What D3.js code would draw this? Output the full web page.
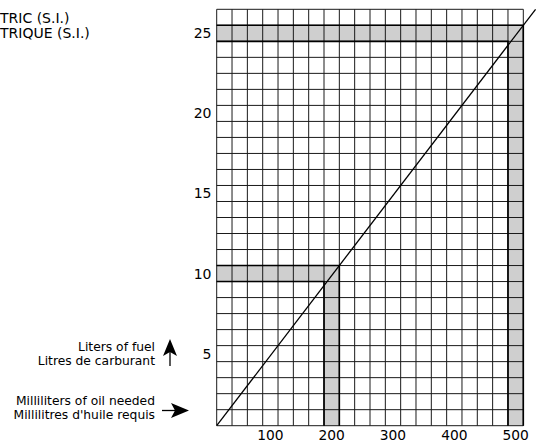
<!DOCTYPE html>
<html><head><meta charset="utf-8">
<script src="https://cdn.jsdelivr.net/npm/d3@7"></script>
<style>
body{margin:0;background:#fff;}
text{font-family:"DejaVu Sans", sans-serif;fill:#000;}
</style></head>
<body><svg id="c" width="537" height="443"></svg>
<script>
// ---- data ----
const xTicks = [100, 200, 300, 400, 500];          // mL of oil
const yTicks = [5, 10, 15, 20, 25];                // L of fuel
const ratioLine = [[0, 0], [520, 26]];              // mL oil vs L fuel (1:50 ratio)
const examples = [{oil: 200, fuel: 10}, {oil: 500, fuel: 25}];
const titleLines = ["TRIC (S.I.)", "TRIQUE (S.I.)"];
const fuelLabel = ["Liters of fuel", "Litres de carburant"];
const oilLabel = ["Milliliters of oil needed", "Millilitres d'huile requis"];
const xStep = 25, yStep = 1, xMax = 500, yMax = 26;

const svg = d3.select("#c");
const x = d3.scaleLinear().domain([0, xMax]).range([216.7, 523.3]);
const y = d3.scaleLinear().domain([0, yMax]).range([425.7, 9.3]);

// shaded bands
const bands = svg.append("g");
examples.forEach(e => {
  bands.append("rect").attr("x", x(0)).attr("y", y(e.fuel)).attr("width", x(e.oil) - x(0))
    .attr("height", y(e.fuel - yStep) - y(e.fuel)).attr("fill", "#cfcfcf");
  bands.append("rect").attr("x", x(e.oil - xStep)).attr("y", y(e.fuel)).attr("width", x(e.oil) - x(e.oil - xStep))
    .attr("height", y(0) - y(e.fuel)).attr("fill", "#cfcfcf");
});

// grid
const grid = svg.append("g").attr("stroke", "#1a1a1a").attr("stroke-width", 1);
d3.range(0, xMax + 1, xStep).forEach(v => {
  grid.append("line").attr("x1", x(v)).attr("x2", x(v)).attr("y1", y(0)).attr("y2", y(yMax));
});
d3.range(0, yMax + 1, yStep).forEach(v => {
  grid.append("line").attr("x1", x(0)).attr("x2", x(xMax)).attr("y1", y(v)).attr("y2", y(v));
});

// band outlines
examples.forEach(e => {
  const p = d3.path();
  p.moveTo(x(0), y(e.fuel)); p.lineTo(x(e.oil), y(e.fuel)); p.lineTo(x(e.oil), y(0));
  p.moveTo(x(0), y(e.fuel - yStep)); p.lineTo(x(e.oil - xStep), y(e.fuel - yStep)); p.lineTo(x(e.oil - xStep), y(0));
  svg.append("path").attr("d", p.toString()).attr("fill", "none").attr("stroke", "#000").attr("stroke-width", 1.6);
});

// ratio line
svg.append("path").datum(ratioLine)
  .attr("d", d3.line().x(d => x(d[0])).y(d => y(d[1])))
  .attr("fill", "none").attr("stroke", "#000").attr("stroke-width", 1.3);

// tick labels
svg.append("g").selectAll("text").data(xTicks).join("text")
  .attr("x", d => x(d - xStep / 2)).attr("y", 440).attr("text-anchor", "middle")
  .attr("font-size", 13.8).text(d => d);
svg.append("g").selectAll("text").data(yTicks).join("text")
  .attr("x", 211.5).attr("y", d => y(d - yStep / 2) + 5).attr("text-anchor", "end")
  .attr("font-size", 14).text(d => d);

// title (visible part, clipped at page edge in the original)
svg.append("g").selectAll("text").data(titleLines).join("text")
  .attr("x", 0).attr("y", (d, i) => 23 + i * 15.3).attr("font-size", 14).text(d => d);

// axis captions
svg.append("g").selectAll("text").data(fuelLabel).join("text")
  .attr("x", 155).attr("y", (d, i) => 350.5 + i * 14).attr("text-anchor", "end").attr("font-size", 12.3).text(d => d);
svg.append("g").selectAll("text").data(oilLabel).join("text")
  .attr("x", 155).attr("y", (d, i) => 405 + i * 14).attr("text-anchor", "end").attr("font-size", 12.3).text(d => d);

// arrows
svg.append("line").attr("x1", 170).attr("x2", 170).attr("y1", 366).attr("y2", 350).attr("stroke", "#000").attr("stroke-width", 1.3);
svg.append("path").attr("d", "M170,339 L177,356 L170,352 L163,356 Z").attr("fill", "#000");
svg.append("line").attr("x1", 162).attr("x2", 178).attr("y1", 410.5).attr("y2", 410.5).attr("stroke", "#000").attr("stroke-width", 1.3);
svg.append("path").attr("d", "M189,410.5 L171,403 L175,410.5 L171,418 Z").attr("fill", "#000");
</script></body></html>
